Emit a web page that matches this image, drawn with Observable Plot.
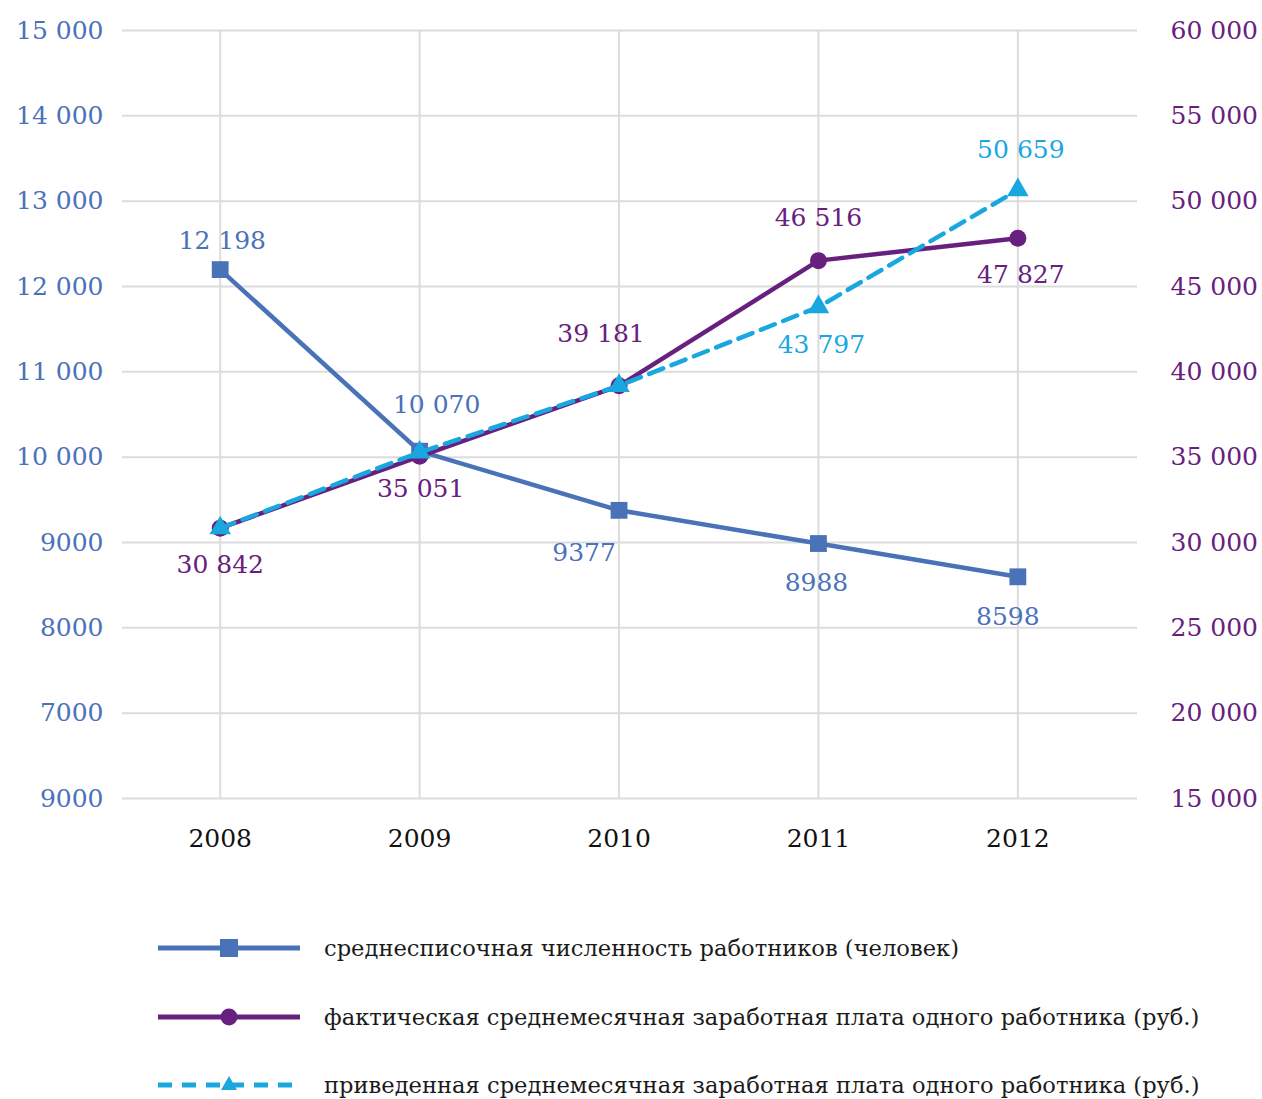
<!DOCTYPE html>
<html>
<head>
<meta charset="utf-8">
<script src="https://cdn.jsdelivr.net/npm/d3@7"></script>
<script src="https://cdn.jsdelivr.net/npm/@observablehq/plot@0.6"></script>
<style>
  body { margin: 0; background: #fff; font-family: "DejaVu Serif", serif; }
  #legend { padding-top: 44px; }
  .row { height: 68.5px; display: flex; align-items: center; }
  .row svg { margin-left: 158px; flex: none; }
  .row span { margin-left: 24px; font-size: 22.6px; color: #1a1a1a; white-space: nowrap; }
</style>
</head>
<body>
<div id="chart"></div>
<div id="legend"></div>
<script>
// ---- data ----
const years = [2008, 2009, 2010, 2011, 2012];
const employees = [12198, 10070, 9377, 8988, 8598];          // left axis
const actualWage = [30842, 35051, 39181, 46516, 47827];       // right axis
const adjustedWage = [30842, 35280, 39181, 43797, 50659];     // right axis
const adjustedLabeled = [false, false, false, true, true];
const leftTicks = [6000, 7000, 8000, 9000, 10000, 11000, 12000, 13000, 14000, 15000];
const leftTickLabels = ["9000", "7000", "8000", "9000", "10 000", "11 000", "12 000", "13 000", "14 000", "15 000"];
const rightTickLabels = ["15 000", "20 000", "25 000", "30 000", "35 000", "40 000", "45 000", "50 000", "55 000", "60 000"];
const seriesNames = [
  "среднесписочная численность работников (человек)",
  "фактическая среднемесячная заработная плата одного работника (руб.)",
  "приведенная среднемесячная заработная плата одного работника (руб.)"
];

// ---- styles ----
const C_BLUE = "#4a72b8", C_PURPLE = "#68207e", C_CYAN = "#19a7e0";
const FONT = "DejaVu Serif";
// label offsets (dx, dy) per series/year
const offB = [[2,-29],[17,-46],[-35,43],[-2,39],[-10,40]];
const offP = [[0,37],[1,33],[-18,-52],[0,-43],[3,37]];
const offC = [[0,0],[0,0],[0,0],[3,38],[3,-40]];

// right axis (15 000–60 000) mapped onto the left scale (6000–15 000)
const toLeft = v => 6000 + (v - 15000) / 5;
const fmt = n => n >= 10000 ? d3.format(",")(n).replace(",", " ") : String(n);

const blue = years.map((y, i) => ({year: y, v: employees[i], label: fmt(employees[i])}));
const purple = years.map((y, i) => ({year: y, v: toLeft(actualWage[i]), label: fmt(actualWage[i])}));
const cyan = years.map((y, i) => ({year: y, v: toLeft(adjustedWage[i]), label: fmt(adjustedWage[i]), show: adjustedLabeled[i]}));

function labels(data, off, color) {
  return data.map((d, i) => Plot.text([d], {
    x: "year", y: "v", text: "label", dx: off[i][0], dy: off[i][1],
    fill: color, fontSize: 25, lineAnchor: "middle", fontFamily: FONT
  }));
}

const chart = Plot.plot({
  width: 1262, height: 870,
  marginLeft: 122, marginRight: 125, marginTop: 30, marginBottom: 72,
  style: {fontFamily: FONT, background: "#fff"},
  x: {type: "linear", domain: [2007.51, 2012.6]},
  y: {domain: [6000, 15000]},
  marks: [
    Plot.gridY(leftTicks, {stroke: "#dcdcdc", strokeOpacity: 1, strokeWidth: 2}),
    Plot.ruleX(years, {stroke: "#dcdcdc", strokeWidth: 2}),
    Plot.axisY(leftTicks, {anchor: "left", tickSize: 0, tickPadding: 19, fontSize: 25, fill: C_BLUE,
      tickFormat: (d, i) => leftTickLabels[leftTicks.indexOf(d)], label: null}),
    Plot.axisY(leftTicks, {anchor: "right", tickSize: 0, tickPadding: 33, fontSize: 25, fill: C_PURPLE,
      tickFormat: (d) => rightTickLabels[leftTicks.indexOf(d)], label: null}),
    Plot.axisX(years, {tickSize: 0, tickPadding: 31, fontSize: 25, fill: "#111", tickFormat: d => String(d), label: null}),
    Plot.line(blue, {x: "year", y: "v", stroke: C_BLUE, strokeWidth: 4.5}),
    Plot.dot(blue, {x: "year", y: "v", symbol: "square", r: 9.5, fill: C_BLUE}),
    Plot.line(purple, {x: "year", y: "v", stroke: C_PURPLE, strokeWidth: 4.5}),
    Plot.dot(purple, {x: "year", y: "v", symbol: "circle", r: 8.5, fill: C_PURPLE}),
    Plot.line(cyan, {x: "year", y: "v", stroke: C_CYAN, strokeWidth: 4.5, strokeDasharray: "15,9"}),
    Plot.dot(cyan, {x: "year", y: "v", symbol: "triangle", r: 8, fill: C_CYAN}),
    ...labels(blue, offB, C_BLUE),
    ...labels(purple, offP, C_PURPLE),
    ...labels(cyan.filter(d => d.show), offC.filter((_, i) => adjustedLabeled[i]), C_CYAN)
  ]
});
document.getElementById("chart").appendChild(chart);

// ---- legend ----
const legendDefs = [
  {color: C_BLUE, dash: null, marker: "square"},
  {color: C_PURPLE, dash: null, marker: "circle"},
  {color: C_CYAN, dash: "14,10", marker: "triangle"}
];
const legend = document.getElementById("legend");
legendDefs.forEach((s, i) => {
  const row = document.createElement("div");
  row.className = "row";
  let m = "";
  if (s.marker === "square") m = `<rect x="62" y="4" width="18" height="18" fill="${s.color}"/>`;
  if (s.marker === "circle") m = `<circle cx="71" cy="13" r="8.5" fill="${s.color}"/>`;
  if (s.marker === "triangle") m = `<path d="M71,4 L79,18 L63,18 Z" fill="${s.color}"/>`;
  row.innerHTML = `<svg width="142" height="26" viewBox="0 0 142 26"><line x1="0" y1="13" x2="142" y2="13" stroke="${s.color}" stroke-width="5" ${s.dash ? `stroke-dasharray="${s.dash}"` : ""}/>${m}</svg><span>${seriesNames[i]}</span>`;
  legend.appendChild(row);
});
</script>
</body>
</html>
